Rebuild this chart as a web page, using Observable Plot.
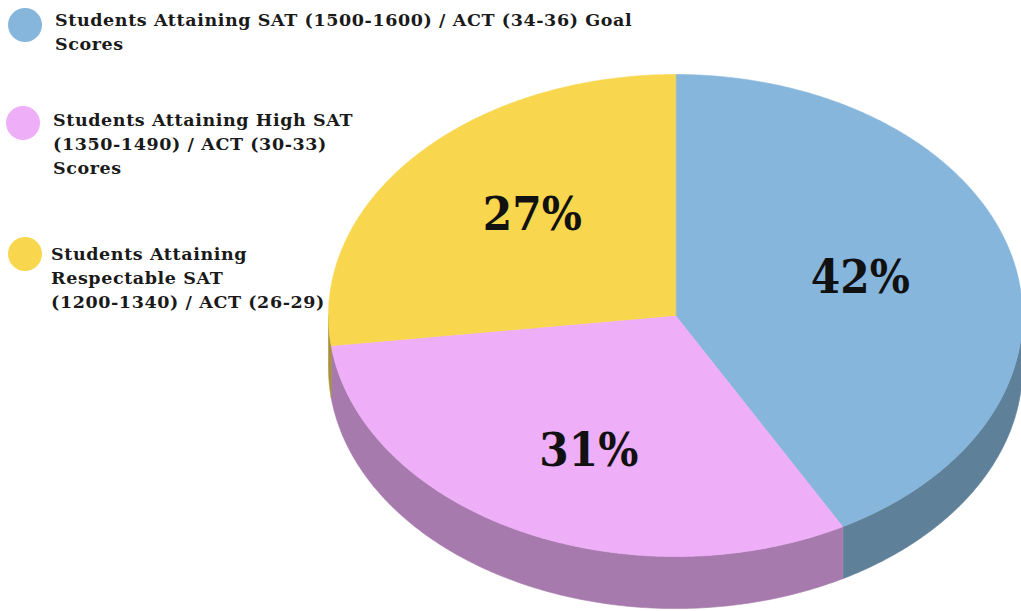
<!DOCTYPE html>
<html>
<head>
<meta charset="utf-8">
<script src="https://cdn.jsdelivr.net/npm/d3@7"></script>
<script src="https://cdn.jsdelivr.net/npm/@observablehq/plot@0.6"></script>
<style>
  html, body { margin: 0; padding: 0; background: #fff; }
  #wrap { position: relative; width: 1021px; height: 611px; overflow: hidden; }
  #chart { position: absolute; left: 0; top: 0; }
  .item { position: absolute; font-family: "DejaVu Serif", serif; font-weight: bold; font-size: 17.5px; letter-spacing: 0.6px; line-height: 24px; color: #1a1a1a; white-space: nowrap; }
  .dot { position: absolute; width: 34px; height: 34px; border-radius: 50%; }
</style>
</head>
<body>
<div id="wrap">
  <div id="chart"></div>
  <div id="legend"></div>
</div>
<script>
// ---- data ----
const categories = [
  "Students Attaining SAT (1500-1600) / ACT (34-36) Goal Scores",
  "Students Attaining High SAT (1350-1490) / ACT (30-33) Scores",
  "Students Attaining Respectable SAT (1200-1340) / ACT (26-29)"
];
const legendLines = [
  ["Students Attaining SAT (1500-1600) / ACT (34-36) Goal", "Scores"],
  ["Students Attaining High SAT", "(1350-1490) / ACT (30-33)", "Scores"],
  ["Students Attaining", "Respectable SAT", "(1200-1340) / ACT (26-29)"]
];
const shares = [42, 31, 27];
const shareLabels = ["42%", "31%", "27%"];

// ---- styles ----
const topColors = ["#86b6dc", "#eeaef8", "#f8d74e"];
const sideColors = ["#5f8099", "#a77aad", "#a8913a"];

// geometry (unit ellipse; scales map it onto the page)
const depth = 0.216;     // thickness in y units
const labelRx = 0.55, labelRy = 0.63;
const step = Math.PI / 360;

const arcs = d3.pie().sort(null).value(d => d)(shares);

function arcPoints(a0, a1, dy = 0) {
  const n = Math.max(2, Math.ceil((a1 - a0) / step));
  const pts = [];
  for (let i = 0; i <= n; i++) {
    const a = a0 + (a1 - a0) * i / n;
    pts.push({x: Math.sin(a), y: Math.cos(a) - dy});
  }
  return pts;
}

const topData = [];
const sideData = [];
const labelData = [];
arcs.forEach((arc, i) => {
  const key = categories[i];
  // top face
  [{x: 0, y: 0}, ...arcPoints(arc.startAngle, arc.endAngle)].forEach(p =>
    topData.push({...p, key, color: topColors[i]}));
  // visible front side wall (between 90° and 270°)
  const s = Math.max(arc.startAngle, Math.PI / 2);
  const e = Math.min(arc.endAngle, 3 * Math.PI / 2);
  if (e > s) {
    const upper = arcPoints(s, e);
    const lower = arcPoints(s, e, depth).reverse();
    [...upper, ...lower].forEach(p => sideData.push({...p, key, color: sideColors[i]}));
  }
  const mid = (arc.startAngle + arc.endAngle) / 2;
  labelData.push({x: labelRx * Math.sin(mid), y: labelRy * Math.cos(mid), text: shareLabels[i]});
});

// scale domains place the unit ellipse (rx 347px, ry 241px) centred at (675, 315)
const cx = 675, cy = 315, rx = 347, ry = 241, W = 1021, H = 611;

const chart = Plot.plot({
  width: W,
  height: H,
  margin: 0,
  x: {domain: [(0 - cx) / rx, (W - cx) / rx], axis: null},
  y: {domain: [(cy - H) / ry, cy / ry], axis: null},
  color: {type: "identity"},
  marks: [
    Plot.line(sideData, {x: "x", y: "y", z: "key", fill: "color", stroke: "color", strokeWidth: 0.6, curve: "linear-closed"}),
    Plot.line(topData, {x: "x", y: "y", z: "key", fill: "color", stroke: "color", strokeWidth: 0.6, curve: "linear-closed"}),
    Plot.text(labelData, {x: "x", y: "y", text: "text", fontSize: 47, fontWeight: "bold", fontFamily: "'DejaVu Serif Condensed', 'DejaVu Serif', serif", fill: "#111"})
  ]
});
document.getElementById("chart").appendChild(chart);

// legend (HTML overlay)
const legendPos = [
  {dotX: 8, dotY: 8, textX: 55, textY: 8},
  {dotX: 6, dotY: 106, textX: 53, textY: 108},
  {dotX: 8, dotY: 237, textX: 51, textY: 242}
];
const legend = document.getElementById("legend");
legendLines.forEach((lines, i) => {
  const dot = document.createElement("div");
  dot.className = "dot";
  dot.style.left = legendPos[i].dotX + "px";
  dot.style.top = legendPos[i].dotY + "px";
  dot.style.background = topColors[i];
  legend.appendChild(dot);
  const item = document.createElement("div");
  item.className = "item";
  item.style.left = legendPos[i].textX + "px";
  item.style.top = legendPos[i].textY + "px";
  item.innerHTML = lines.map(l => l.replace(/&/g, "&amp;").replace(/</g, "&lt;")).join("<br>");
  legend.appendChild(item);
});
</script>
</body>
</html>
